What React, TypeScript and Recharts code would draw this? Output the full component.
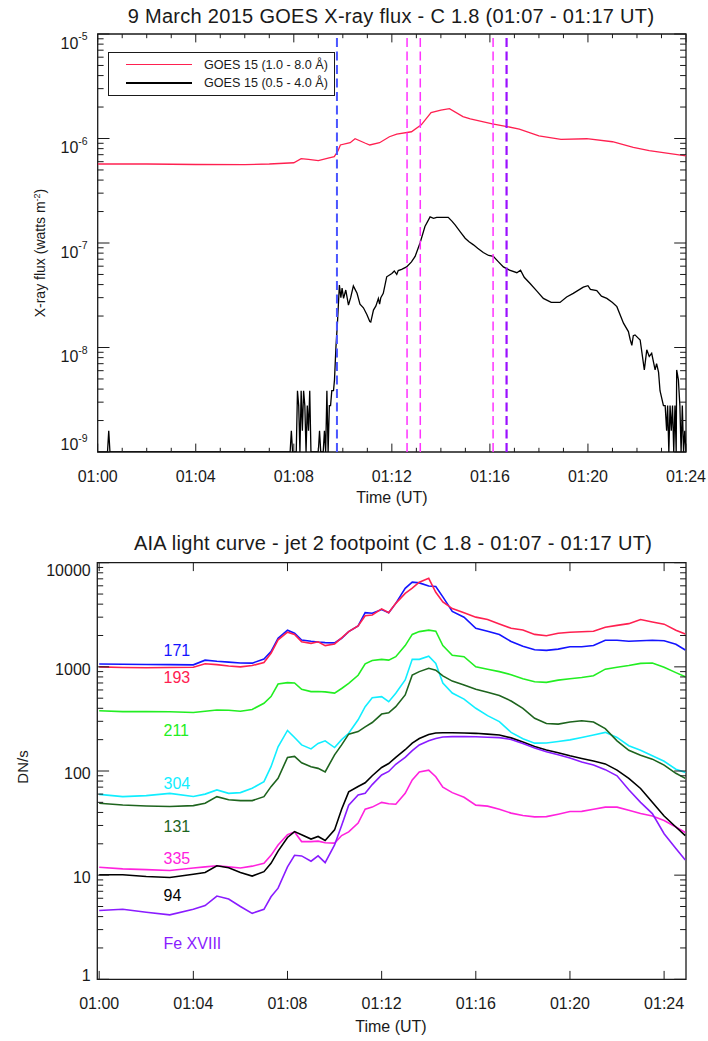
import React from "react";
import { LineChart, Line, XAxis, YAxis, ReferenceLine, ReferenceArea } from "recharts";

const FONT = '"Liberation Sans", Arial, Helvetica, sans-serif';
const INK = "#1a1a1a";

// ---------- top panel: GOES 15, time = minutes after 01:00 UT ----------
const goesLong: [number, number][] = [
  [0, 5.7e-7], [2, 5.7e-7], [4, 5.64e-7], [6, 5.62e-7], [7, 5.7e-7], [8, 5.86e-7],
  [8.3, 6.41e-7], [8.6, 6.3e-7], [9, 6.14e-7], [9.4, 6.5e-7], [9.65, 6.7e-7], [9.8, 7.59e-7],
  [9.9, 8.67e-7], [10.3, 9.12e-7], [10.5, 9.96e-7], [10.9, 9.06e-7], [11.1, 8.67e-7], [11.5, 9.12e-7],
  [11.9, 1.04e-6], [12.2, 1.1e-6], [12.8, 1.16e-6], [13.2, 1.35e-6], [13.6, 1.77e-6], [14, 1.87e-6],
  [14.35, 1.93e-6], [14.9, 1.62e-6], [15.2, 1.54e-6], [16.1, 1.38e-6], [16.7, 1.3e-6], [17.2, 1.23e-6],
  [18, 1.06e-6], [18.9, 9.83e-7], [19.95, 9.95e-7], [21, 9.31e-7], [21.85, 8.24e-7], [22.5, 7.64e-7],
  [24, 6.81e-7],
];

const goesShort: [number, number][] = [
  [0, 1e-9], [0.4, 1e-9], [0.45, 1.6e-9], [0.5, 1e-9], [7.85, 1e-9], [7.9, 1.6e-9], [7.95, 1e-9],
  [8.1, 1e-9], [8.15, 3.86e-9], [8.2, 2.78e-9], [8.25, 1e-9], [8.3, 3.86e-9], [8.35, 1.6e-9],
  [8.4, 3.86e-9], [8.45, 2.78e-9], [8.5, 1e-9], [8.55, 2.78e-9], [8.6, 1.6e-9], [8.65, 3.86e-9],
  [8.7, 1e-9], [9.0, 1e-9], [9.05, 1.6e-9], [9.1, 1e-9], [9.2, 1e-9], [9.25, 1.6e-9], [9.3, 1e-9],
  [9.35, 3.86e-9], [9.4, 1e-9], [9.45, 2.78e-9], [9.5, 2.78e-9], [9.55, 3.86e-9], [9.62, 3.86e-9],
  [9.66, 4.9e-9], [9.72, 1.02e-8], [9.78, 1.71e-8], [9.86, 3.96e-8], [9.92, 3.0e-8], [9.97, 3.7e-8],
  [10.03, 2.95e-8], [10.12, 3.55e-8], [10.23, 2.55e-8], [10.32, 3.0e-8], [10.43, 3.88e-8],
  [10.5, 3.6e-8], [10.58, 3.3e-8], [10.7, 2.6e-8], [10.84, 2.4e-8], [10.98, 2.07e-8], [11.1, 1.77e-8],
  [11.14, 1.75e-8], [11.25, 2.28e-8], [11.35, 2.5e-8], [11.45, 2.95e-8], [11.5, 2.6e-8],
  [11.55, 3.0e-8], [11.65, 3.3e-8], [11.79, 4.75e-8], [12.0, 5.1e-8], [12.1, 5.4e-8], [12.2, 5.0e-8],
  [12.26, 5.45e-8], [12.4, 5.6e-8], [12.6, 5.9e-8], [12.8, 6.6e-8], [12.95, 7.45e-8], [13.15, 1.0e-7],
  [13.35, 1.44e-7], [13.56, 1.78e-7], [13.7, 1.72e-7], [13.83, 1.76e-7], [14.1, 1.76e-7],
  [14.3, 1.76e-7], [14.45, 1.62e-7], [14.58, 1.49e-7], [14.8, 1.27e-7], [14.99, 1.11e-7],
  [15.15, 1.03e-7], [15.33, 9.6e-8], [15.5, 8.9e-8], [15.73, 8.1e-8], [15.95, 7.6e-8],
  [16.14, 7.45e-8], [16.35, 6.6e-8], [16.55, 5.9e-8], [16.8, 5.5e-8], [17.1, 5.2e-8], [17.25, 5.5e-8],
  [17.4, 4.7e-8], [17.64, 4.1e-8], [17.9, 3.5e-8], [18.18, 2.95e-8], [18.5, 2.7e-8], [18.86, 2.7e-8],
  [19.13, 3.04e-8], [19.4, 3.3e-8], [19.81, 3.78e-8], [20.0, 3.9e-8], [20.1, 3.6e-8], [20.36, 3.5e-8],
  [20.55, 3.1e-8], [20.77, 2.95e-8], [21.0, 2.7e-8], [21.18, 2.46e-8], [21.45, 1.71e-8],
  [21.65, 1.42e-8], [21.72, 1.2e-8], [21.79, 1.05e-8], [21.85, 1.3e-8], [21.92, 1.32e-8],
  [22.13, 1.18e-8], [22.3, 6.1e-9], [22.4, 9.5e-9], [22.5, 8.2e-9], [22.6, 8.8e-9], [22.74, 6.1e-9],
  [22.8, 7e-9], [22.88, 5.8e-9], [22.94, 3.86e-9], [23.08, 2.78e-9], [23.15, 2.78e-9],
  [23.21, 1.6e-9], [23.25, 2.78e-9], [23.3, 1e-9], [23.35, 2.78e-9], [23.4, 1.6e-9], [23.45, 2.78e-9],
  [23.5, 1e-9], [23.55, 2.78e-9], [23.6, 1e-9], [23.62, 6.1e-9], [23.69, 4.9e-9], [23.75, 2.78e-9],
  [23.8, 1e-9], [23.85, 2.78e-9], [23.9, 1e-9], [23.95, 1.6e-9], [24.0, 1e-9],
];

const markerTimes = [9.76, 12.62, 13.16, 16.13, 16.68];
const markerColors = ["#4a55ff", "#ff33ff", "#ff33ff", "#ff33ff", "#9a10ff"];
const markerWidths = [2, 1.5, 1.5, 1.5, 2.2];

// ---------- bottom panel: AIA light curves ----------
const aiaTime = [
  0, 1, 2, 3, 4, 4.5, 5, 5.5, 6, 6.5, 7, 7.3, 7.6, 8, 8.3, 8.6, 9, 9.3, 9.6, 10, 10.3, 10.6, 11, 11.3,
  11.6, 12, 12.3, 12.6, 13, 13.3, 13.6, 14, 14.3, 14.6, 15, 15.5, 16, 16.5, 17, 17.5, 18, 18.5, 19,
  19.5, 20, 20.5, 21, 21.5, 22, 22.5, 23, 23.5, 24, 24.5, 24.9,
];
const aia171 = [
  1065, 1060, 1055, 1050, 1045, 1160, 1130, 1110, 1090, 1085, 1190, 1400, 1880, 2250, 2100, 1810,
  1760, 1730, 1710, 1700, 1880, 2180, 2470, 3310, 3270, 3550, 3310, 4070, 5680, 6500, 6400, 5970,
  5900, 4700, 3400, 3000, 2340, 2200, 2040, 1750, 1580, 1460, 1440, 1480, 1560, 1560, 1600, 1800,
  1800, 1760, 1780, 1800, 1780, 1650, 1450,
];
const aia193 = [
  1000, 985, 980, 985, 990, 1070, 1050, 1020, 1000, 1030, 1100, 1350, 1820, 2150, 2050, 1745, 1680,
  1740, 1600, 1660, 1900, 2180, 2470, 3100, 3150, 3600, 3310, 4070, 5080, 5700, 6500, 7080, 5200,
  4200, 3630, 3300, 3000, 2850, 2580, 2350, 2260, 2050, 1990, 2100, 2150, 2170, 2200, 2400, 2500,
  2600, 2850, 2700, 2570, 2250, 2065,
];
const aia211 = [
  379, 372, 372, 370, 365, 375, 385, 383, 375, 390, 447, 518, 684, 705, 700, 608, 578, 580, 575, 560,
  620, 695, 830, 1070, 1150, 1180, 1160, 1253, 1600, 2050, 2180, 2250, 2200, 1600, 1290, 1250, 1000,
  950, 900, 840, 770, 720, 710, 745, 770, 790, 822, 950, 990, 1030, 1080, 1090, 990, 880, 805,
];
const aia304 = [
  59.7, 56.7, 58, 61, 57, 60, 65.8, 61, 62, 68.3, 79, 110, 171, 245, 210, 178, 163, 184, 195, 168, 200,
  230, 310, 415, 505, 518, 463, 557, 748, 1180, 1180, 1265, 1080, 700, 560, 490, 400, 340, 298, 235,
  204, 185, 186, 192, 199, 210, 222, 235, 210, 175, 158, 140, 124, 104, 97,
];
const aia131 = [
  49, 47.2, 46.2, 45.6, 46.5, 49, 56.7, 53, 52, 52, 56.7, 70.8, 85, 135, 138, 120, 110, 106, 98, 143,
  178, 226, 239, 265, 292, 352, 362, 415, 537, 835, 900, 968, 930, 820, 730, 670, 610, 570, 530, 470,
  400, 321, 286, 282, 295, 304, 295, 255, 195, 158, 142, 130, 114, 95, 85,
];
const aia335 = [
  11.9, 11.5, 11.3, 11.1, 11.7, 12.0, 12.3, 12.0, 11.7, 12.2, 13.0, 15.5, 19.5, 24.5, 26, 21, 21,
  21.2, 20.5, 20.3, 24, 26, 31.6, 43, 45, 50, 48.4, 48, 61, 82, 98, 102, 88, 70, 62, 56, 47, 46, 43,
  39.4, 37.4, 36.3, 36.5, 38.5, 40.8, 41, 43, 45, 45, 42, 39, 37, 33.5, 29, 25.7,
];
const aia94 = [
  10.1, 10.1, 9.7, 9.5, 10.2, 10.6, 12.3, 11.8, 10.6, 9.8, 10.8, 13, 17, 23, 26.2, 24.4, 22.2, 23.5,
  21.5, 27.2, 43, 63, 71, 77, 90, 108, 118, 135, 160, 185, 205, 224, 232, 233, 233, 232, 230, 226,
  222, 208, 190, 172, 159, 150, 140, 132, 125, 117, 102, 85, 68, 50, 37, 29, 24,
];
const aiaFe18 = [
  4.58, 4.7, 4.4, 4.16, 4.7, 5.1, 6.3, 5.9, 5.0, 4.3, 4.7, 6.2, 7.5, 12, 15.5, 15.3, 13.6, 15.3, 13.2,
  19.5, 30, 47, 59, 61, 74, 91.6, 99, 116, 135, 157, 178, 195, 205, 212, 214, 214, 213, 211, 209,
  201, 184, 166, 153, 143, 133, 122, 114, 103, 90, 66, 50, 39, 25, 18, 14,
];

const channelNames = ["171", "193", "211", "304", "131", "335", "94", "Fe XVIII"];
const channelValues = [aia171, aia193, aia211, aia304, aia131, aia335, aia94, aiaFe18];
const channelColors = ["#1414ff", "#ff2050", "#22ee22", "#11eeff", "#1e641e", "#ff22dd", "#000000", "#8a1cff"];
const channelLabelY = [651, 678, 731, 784, 827, 859, 896, 944];

const goesMinuteTicks = Array.from({ length: 25 }, (_, i) => i);
const aiaMinuteTicks = [0, 4, 8, 12, 16, 20, 24];

function logTicks(lo: number, hi: number) {
  const out: number[] = [];
  for (let e = lo; e < hi; e++) for (let k = 1; k <= 9; k++) out.push(k * Math.pow(10, e));
  out.push(Math.pow(10, hi));
  return out;
}
const goesFluxTicks = logTicks(-9, -5);
const aiaCountTicks = logTicks(0, 4);

// ---------- layout ----------
const TOP = { w: 708, h: 500, left: 97.7, top: 34, right: 22, bottom: 48 };
const TOP_PW = TOP.w - TOP.left - TOP.right;
const TOP_PH = TOP.h - TOP.top - TOP.bottom;
const BOT_Y = 520;
const BOT = { w: 708, h: 521, left: 97.3, top: 42.7, right: 22, bottom: 61.7 };
const BOT_PW = BOT.w - BOT.left - BOT.right;
const BOT_PH = BOT.h - BOT.top - BOT.bottom;

const clock = (m: number) => `01:${String(m).padStart(2, "0")}`;

function isDecade(v: number) {
  const e = Math.log10(v);
  return Math.abs(e - Math.round(e)) < 1e-6;
}

function timeTick(plotH: number) {
  return (props: any) => {
    const { x, y, payload } = props;
    const v = payload.value as number;
    const major = v % 4 === 0;
    const len = major ? 8.4 : 4.2;
    return (
      <g>
        <line x1={x} x2={x} y1={y} y2={y - len} stroke={INK} />
        <line x1={x} x2={x} y1={y - plotH} y2={y - plotH + len} stroke={INK} />
        {major && (
          <text x={x} y={y + 30} textAnchor="middle" fontFamily={FONT} fontSize={16} fill={INK}>
            {clock(v)}
          </text>
        )}
      </g>
    );
  };
}

function fluxTick(props: any) {
  const { x, y, payload } = props;
  const v = payload.value as number;
  const major = isDecade(v);
  const len = major ? 11.8 : 5.9;
  const exp = Math.round(Math.log10(v));
  const dy = exp === -9 ? -2 : 14.5;
  return (
    <g>
      <line x1={x} x2={x + len} y1={y} y2={y} stroke={INK} />
      <line x1={x + TOP_PW} x2={x + TOP_PW - len} y1={y} y2={y} stroke={INK} />
      {major && (
        <text x={x - 10} y={y + dy} textAnchor="end" fontFamily={FONT} fontSize={16} fill={INK}>
          10
          <tspan dy={-8.5} fontSize={10.5}>{`${exp}`}</tspan>
        </text>
      )}
    </g>
  );
}

function countTick(props: any) {
  const { x, y, payload } = props;
  const v = payload.value as number;
  const major = isDecade(v);
  const len = major ? 11.8 : 5.9;
  const dy = v >= 9999 ? 13 : v <= 1.0001 ? 1.5 : 8;
  return (
    <g>
      <line x1={x} x2={x + len} y1={y} y2={y} stroke={INK} />
      <line x1={x + BOT_PW} x2={x + BOT_PW - len} y1={y} y2={y} stroke={INK} />
      {major && (
        <text x={x - 6.6} y={y + dy} textAnchor="end" fontFamily={FONT} fontSize={16} fill={INK}>
          {String(Math.round(v))}
        </text>
      )}
    </g>
  );
}

function Txt(props: {
  x: number;
  y: number;
  size: number;
  color?: string;
  anchor?: "start" | "middle";
  rotate?: boolean;
  spacing?: number;
  children: React.ReactNode;
}) {
  const { x, y, size, color = INK, anchor = "middle", rotate = false, spacing = 0 } = props;
  const tx = anchor === "middle" ? "-50%" : "0";
  return (
    <div
      style={{
        position: "absolute",
        left: x,
        top: y,
        transform: `translate(${tx}, -50%)${rotate ? " rotate(-90deg)" : ""}`,
        whiteSpace: "nowrap",
        lineHeight: 1,
        fontSize: size,
        fontFamily: FONT,
        color,
        letterSpacing: spacing,
      }}
    >
      {props.children}
    </div>
  );
}

const goesLongData = goesLong.map(([t, v]) => ({ t, v }));
const goesShortData = goesShort.map(([t, v]) => ({ t, v }));
const aiaRows = aiaTime.map((t, i) => {
  const row: Record<string, number> = { t };
  channelNames.forEach((n, c) => (row[n] = channelValues[c][i]));
  return row;
});

export default function App() {
  return (
    <div style={{ position: "absolute", left: 0, top: 0, width: 708, height: 1041, background: "#fff" }}>
      <div style={{ position: "absolute", left: 0, top: 0 }}>
        <LineChart
          width={TOP.w}
          height={TOP.h}
          margin={{ top: TOP.top, right: TOP.right, bottom: 0, left: 0 }}
        >
          <XAxis
            type="number"
            dataKey="t"
            domain={[0, 24]}
            ticks={goesMinuteTicks}
            interval={0}
            allowDataOverflow
            height={TOP.bottom}
            tickSize={0}
            tickMargin={0}
            axisLine={false}
            tickLine={false}
            tick={timeTick(TOP_PH)}
          />
          <YAxis
            type="number"
            scale="log"
            domain={[1e-9, 1e-5]}
            ticks={goesFluxTicks}
            interval={0}
            allowDataOverflow
            width={TOP.left}
            tickSize={0}
            tickMargin={0}
            axisLine={false}
            tickLine={false}
            tick={fluxTick}
          />
          <ReferenceArea x1={0} x2={24} y1={1e-9} y2={1e-5} fill="none" stroke={INK} strokeWidth={1.3} />
          <Line data={goesLongData} dataKey="v" type="linear" stroke="#ff2050" strokeWidth={1.3} dot={false} isAnimationActive={false} />
          <Line data={goesShortData} dataKey="v" type="linear" stroke="#000" strokeWidth={1.3} dot={false} isAnimationActive={false} />
          {markerTimes.map((m, i) => (
            <ReferenceLine
              key={i}
              x={m}
              stroke={markerColors[i]}
              strokeWidth={markerWidths[i]}
              strokeDasharray="9 4.5"
            />
          ))}
        </LineChart>
      </div>

      <div style={{ position: "absolute", left: 0, top: BOT_Y }}>
        <LineChart
          width={BOT.w}
          height={BOT.h}
          data={aiaRows}
          margin={{ top: BOT.top, right: BOT.right, bottom: 0, left: 0 }}
        >
          <XAxis
            type="number"
            dataKey="t"
            domain={[-0.08, 24.93]}
            ticks={aiaMinuteTicks}
            interval={0}
            allowDataOverflow
            height={BOT.bottom}
            tickSize={0}
            tickMargin={0}
            axisLine={false}
            tickLine={false}
            tick={timeTick(BOT_PH)}
          />
          <YAxis
            type="number"
            scale="log"
            domain={[1, 10000]}
            ticks={aiaCountTicks}
            interval={0}
            allowDataOverflow
            width={BOT.left}
            tickSize={0}
            tickMargin={0}
            axisLine={false}
            tickLine={false}
            tick={countTick}
          />
          <ReferenceArea x1={-0.08} x2={24.93} y1={1} y2={10000} fill="none" stroke={INK} strokeWidth={1.3} />
          {channelNames.map((n, c) => (
            <Line
              key={n}
              dataKey={n}
              type="linear"
              stroke={channelColors[c]}
              strokeWidth={1.6}
              dot={false}
              isAnimationActive={false}
            />
          ))}
        </LineChart>
      </div>

      {/* titles and axis captions */}
      <Txt x={391} y={15.5} size={20} spacing={0.3}>
        9 March 2015 GOES X-ray flux - C 1.8 (01:07 - 01:17 UT)
      </Txt>
      <Txt x={392} y={498} size={16}>Time (UT)</Txt>
      <Txt x={40} y={253} size={14} rotate>
        X-ray flux (watts m<span style={{ fontSize: 9, verticalAlign: "super" }}>-2</span>)
      </Txt>

      <Txt x={393} y={543} size={20} spacing={0.3}>
        AIA light curve - jet 2 footpoint (C 1.8 - 01:07 - 01:17 UT)
      </Txt>
      <Txt x={391} y={1027} size={16}>Time (UT)</Txt>
      <Txt x={22} y={767} size={15} rotate>DN/s</Txt>

      {/* GOES legend */}
      <div
        style={{
          position: "absolute",
          left: 108,
          top: 52,
          width: 227,
          height: 44,
          border: `1px solid ${INK}`,
          boxSizing: "border-box",
        }}
      />
      <div style={{ position: "absolute", left: 126, top: 63.5, width: 66, height: 1.6, background: "#ff2050" }} />
      <div style={{ position: "absolute", left: 126, top: 82, width: 66, height: 1.6, background: "#000" }} />
      <Txt x={204} y={64.5} size={12.6} anchor="start">GOES 15 (1.0 - 8.0 Å)</Txt>
      <Txt x={204} y={83} size={12.6} anchor="start">GOES 15 (0.5 - 4.0 Å)</Txt>

      {/* AIA channel labels */}
      {channelNames.map((n, c) => (
        <Txt key={n} x={163.5} y={channelLabelY[c]} size={16} anchor="start" color={channelColors[c]}>
          {n}
        </Txt>
      ))}
    </div>
  );
}
